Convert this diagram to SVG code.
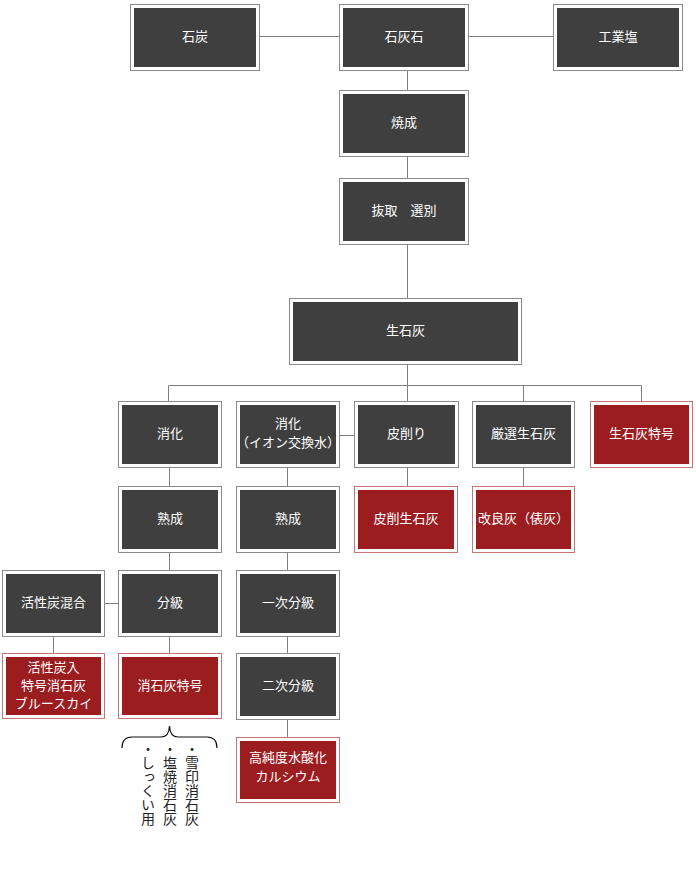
<svg xmlns="http://www.w3.org/2000/svg" width="696" height="870" viewBox="0 0 696 870">
<style>
.o{fill:#fff;stroke:#8a8a8a;stroke-width:1}
.i{fill:#3f3f3f}
.or{fill:#fff;stroke:#c87474;stroke-width:1}
.ir{fill:#9b1d20}
.t{fill:#fff;font-family:"Noto Sans CJK JP","Noto Sans",sans-serif;font-size:13px;text-anchor:middle}
.c{stroke:#808080;stroke-width:1;fill:none}
.v{fill:#222;font-family:"Noto Sans CJK JP","Noto Sans",sans-serif;font-size:14px;writing-mode:vertical-rl}
</style>
<rect width="696" height="870" fill="#fff"/>
<g id="connectors">
<path class="c" d="M259 36.5H339M468 36.5H553M407.5 70V90M407.5 156V178M407.5 244V298M407.5 364V401M168.5 385.5H641.5M168.5 385.5V401M523.5 385.5V401M641.5 385.5V401M340 435.5H355M407.5 467V486M523.5 467V486M169.5 467V486M169.5 552V570M169.5 636V653M104 603.5H118M53.5 636V653M287.5 467V486M287.5 552V570M287.5 636V653M287.5 719V737"/>
<path d="M122 748Q122 737 132 737L161 737Q169 737 169.5 726Q170 737 178 737L207 737Q217 737 217 748" fill="none" stroke="#111" stroke-width="1.2"/>
</g>
<g id="n_sekitan"><rect class="o" x="130.5" y="4.5" width="129" height="66"/><rect class="i" x="134" y="8" width="122" height="59"/><text class="t" x="195" y="41">石炭</text></g>
<g id="n_sekkaiseki"><rect class="o" x="339.5" y="4.5" width="129" height="66"/><rect class="i" x="343" y="8" width="122" height="59"/><text class="t" x="404" y="41">石灰石</text></g>
<g id="n_kougyouen"><rect class="o" x="553.5" y="4.5" width="129" height="66"/><rect class="i" x="557" y="8" width="122" height="59"/><text class="t" x="618" y="41">工業塩</text></g>
<g id="n_shousei"><rect class="o" x="339.5" y="90.5" width="129" height="66"/><rect class="i" x="343" y="94" width="122" height="59"/><text class="t" x="404" y="127">焼成</text></g>
<g id="n_nukitori"><rect class="o" x="339.5" y="178.5" width="129" height="66"/><rect class="i" x="343" y="182" width="122" height="59"/><text class="t" x="404" y="215">抜取　選別</text></g>
<g id="n_seisekkai"><rect class="o" x="289.5" y="298.5" width="232" height="66"/><rect class="i" x="293" y="302" width="225" height="59"/><text class="t" x="405.5" y="335">生石灰</text></g>
<g id="n_shouka"><rect class="o" x="118.5" y="401.5" width="103" height="66"/><rect class="i" x="122" y="405" width="96" height="59"/><text class="t" x="170" y="438">消化</text></g>
<g id="n_shouka_ion"><rect class="o" x="236.5" y="401.5" width="103" height="66"/><rect class="i" x="240" y="405" width="96" height="59"/><text class="t" x="288" y="428">消化<tspan x="288" dy="18.5">（イオン交換水）</tspan></text></g>
<g id="n_kawakezuri"><rect class="o" x="354.5" y="401.5" width="104" height="66"/><rect class="i" x="358" y="405" width="97" height="59"/><text class="t" x="406.5" y="438">皮削り</text></g>
<g id="n_gensen"><rect class="o" x="472.5" y="401.5" width="102" height="66"/><rect class="i" x="476" y="405" width="95" height="59"/><text class="t" x="523.5" y="438">厳選生石灰</text></g>
<g id="n_seisekkai_tokugou"><rect class="or" x="590.5" y="401.5" width="102" height="66"/><rect class="ir" x="594" y="405" width="95" height="59"/><text class="t" x="641.5" y="438">生石灰特号</text></g>
<g id="n_jukusei1"><rect class="o" x="118.5" y="486.5" width="103" height="66"/><rect class="i" x="122" y="490" width="96" height="59"/><text class="t" x="170" y="523">熟成</text></g>
<g id="n_jukusei2"><rect class="o" x="236.5" y="486.5" width="103" height="66"/><rect class="i" x="240" y="490" width="96" height="59"/><text class="t" x="288" y="523">熟成</text></g>
<g id="n_kawakezuri_seisekkai"><rect class="or" x="354.5" y="486.5" width="103" height="66"/><rect class="ir" x="358" y="490" width="96" height="59"/><text class="t" x="406" y="523">皮削生石灰</text></g>
<g id="n_kairyoubai"><rect class="or" x="472.5" y="486.5" width="102" height="66"/><rect class="ir" x="476" y="490" width="95" height="59"/><text class="t" x="523.5" y="523">改良灰（俵灰）</text></g>
<g id="n_kasseitan"><rect class="o" x="2.5" y="570.5" width="102" height="66"/><rect class="i" x="6" y="574" width="95" height="59"/><text class="t" x="53.5" y="607">活性炭混合</text></g>
<g id="n_bunkyu"><rect class="o" x="118.5" y="570.5" width="103" height="66"/><rect class="i" x="122" y="574" width="96" height="59"/><text class="t" x="170" y="607">分級</text></g>
<g id="n_ichiji"><rect class="o" x="236.5" y="570.5" width="103" height="66"/><rect class="i" x="240" y="574" width="96" height="59"/><text class="t" x="288" y="607">一次分級</text></g>
<g id="n_kasseitan_iri"><rect class="or" x="2.5" y="653.5" width="102" height="65"/><rect class="ir" x="6" y="657" width="95" height="58"/><text class="t" x="53.5" y="672">活性炭入<tspan x="53.5" dy="18">特号消石灰</tspan><tspan x="53.5" dy="18">ブルースカイ</tspan></text></g>
<g id="n_shousekkai_tokugou"><rect class="or" x="118.5" y="653.5" width="103" height="65"/><rect class="ir" x="122" y="657" width="96" height="58"/><text class="t" x="170" y="690">消石灰特号</text></g>
<g id="n_niji"><rect class="o" x="236.5" y="653.5" width="103" height="66"/><rect class="i" x="240" y="657" width="96" height="59"/><text class="t" x="288" y="690">二次分級</text></g>
<g id="n_koujundo"><rect class="or" x="236.5" y="737.5" width="103" height="65"/><rect class="ir" x="240" y="741" width="96" height="58"/><text class="t" x="288" y="762">高純度水酸化<tspan x="288" dy="18.5">カルシウム</tspan></text></g>
<g id="notes">
<text class="v" x="192" y="742">・雪印消石灰</text>
<text class="v" x="170" y="742">・塩焼消石灰</text>
<text class="v" x="148" y="742">・しっくい用</text>
</g>
</svg>
